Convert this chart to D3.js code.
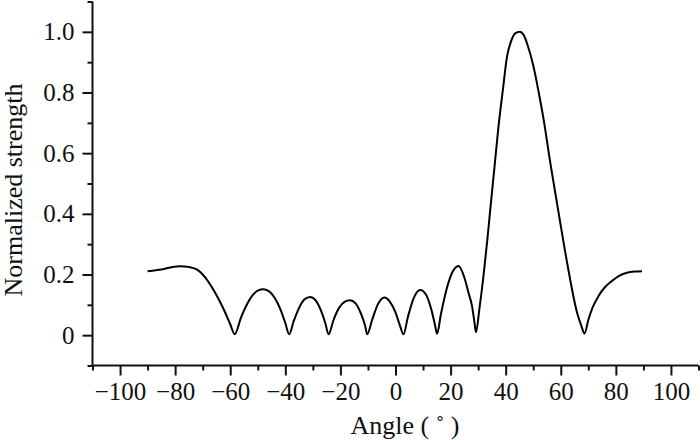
<!DOCTYPE html>
<html>
<head>
<meta charset="utf-8">
<script src="https://cdn.jsdelivr.net/npm/d3@7"></script>
<style>
  html, body { margin: 0; padding: 0; background: #fff; }
  svg { display: block; }
  text { font-family: "Liberation Serif", "Times New Roman", serif; fill: #111; }
</style>
</head>
<body>
<svg id="chart" width="700" height="440"></svg>
<script>
// ---- data ----
const angles = [
  -90, -87, -84, -81, -78, -75, -72, -70, -68, -66, -64, -62, -60, -58.4,
  -56, -54, -52, -50, -48, -46, -44, -42, -40, -38.6,
  -37, -35, -33, -31, -29, -27, -25.5, -24.3,
  -22.5, -20.5, -18.5, -16.5, -14.5, -12.5, -11, -10.3,
  -8.5, -6.5, -4, -2, 0, 1.5, 2.9,
  4.5, 6.5, 9, 11, 13, 14.3, 15.1,
  16.5, 18.5, 20.5, 22.9, 25, 26.5, 27.8, 28.7, 29.2,
  30.5, 32, 33.4, 34.4, 36, 37.4, 39, 40.5, 42, 43.5, 45.1, 46.5, 48, 50.1, 52, 53.8, 56.2, 59.2, 62.3, 65.9, 67.5, 68.6,
  70, 71.5, 73.7, 76, 78.6, 81, 84, 87, 89.5
];
const strength = [
  0.211, 0.214, 0.218, 0.225, 0.227, 0.225, 0.216, 0.200, 0.177, 0.148, 0.115, 0.078, 0.036, 0.003,
  0.060, 0.100, 0.130, 0.147, 0.151, 0.145, 0.125, 0.090, 0.040, 0.003,
  0.045, 0.090, 0.118, 0.126, 0.115, 0.080, 0.040, 0.003,
  0.050, 0.090, 0.110, 0.115, 0.105, 0.070, 0.030, 0.003,
  0.050, 0.100, 0.124, 0.110, 0.075, 0.035, 0.003,
  0.060, 0.120, 0.149, 0.135, 0.085, 0.035, 0.005,
  0.070, 0.150, 0.205, 0.228, 0.190, 0.140, 0.095, 0.040, 0.010,
  0.090, 0.200, 0.320, 0.414, 0.560, 0.689, 0.810, 0.919, 0.970, 0.995, 1.000, 0.990, 0.955, 0.886, 0.800, 0.710, 0.568, 0.404, 0.239, 0.075, 0.030, 0.005,
  0.050, 0.090, 0.129, 0.158, 0.179, 0.195, 0.206, 0.210, 0.211
];
const xMajorTicks = [-100, -80, -60, -40, -20, 0, 20, 40, 60, 80, 100];
const xMinorTicks = [-110, -90, -70, -50, -30, -10, 10, 30, 50, 70, 90, 110];
const yMajorTicks = [0, 0.2, 0.4, 0.6, 0.8, 1.0];
const yMinorTicks = [-0.1, 0.1, 0.3, 0.5, 0.7, 0.9, 1.1];
const yTickLabels = ["0", "0.2", "0.4", "0.6", "0.8", "1.0"];
const xTitle = "Angle\u00a0(\u00a0\u02da\u00a0)";
const yTitle = "Normalized strength";

// ---- layout ----
const svg = d3.select("#chart");
const x = d3.scaleLinear().domain([-110, 110]).range([92.5, 698.5]);
const y = d3.scaleLinear().domain([-0.1, 1.1]).range([365.5, 1.5]);

const axisColor = "#111";
const tickFont = 25;

// x axis
const gx = svg.append("g").attr("transform", `translate(0,${y(-0.1)})`);
gx.call(d3.axisBottom(x).tickValues(xMajorTicks).tickSize(10).tickPadding(7)
  .tickFormat(d => d < 0 ? "\u2212" + Math.abs(d) : String(d)));
gx.call(g => g.select(".domain").remove());
gx.append("g").call(d3.axisBottom(x).tickValues(xMinorTicks).tickSize(5).tickFormat(""))
  .call(g => g.select(".domain").remove());
gx.append("line").attr("x1", x(-110)).attr("x2", x(110)).attr("y1", 0).attr("y2", 0);

// y axis
const gy = svg.append("g").attr("transform", `translate(${x(-110)},0)`);
gy.call(d3.axisLeft(y).tickValues(yMajorTicks).tickSize(10).tickPadding(8)
  .tickFormat((d, i) => yTickLabels[i]));
gy.call(g => g.select(".domain").remove());
gy.append("g").call(d3.axisLeft(y).tickValues(yMinorTicks).tickSize(5).tickFormat(""))
  .call(g => g.select(".domain").remove());
gy.append("line").attr("x1", 0).attr("x2", 0).attr("y1", y(-0.1)).attr("y2", y(1.1));

svg.selectAll("g line").attr("stroke", axisColor).attr("stroke-width", 2);
svg.selectAll("g .tick text")
  .style("font-family", '"Liberation Serif", "Times New Roman", serif')
  .style("font-size", tickFont + "px")
  .attr("fill", "#111");

// titles
svg.append("text")
  .attr("x", 405).attr("y", 434)
  .attr("text-anchor", "middle")
  .style("font-size", "26px")
  .text(xTitle);

svg.append("text")
  .attr("transform", `translate(22,${190}) rotate(-90)`)
  .attr("text-anchor", "middle")
  .style("font-size", "26px")
  .text(yTitle);

// curve
const pts = angles.map((a, i) => [a, strength[i]]);
const line = d3.line().x(d => x(d[0])).y(d => y(d[1])).curve(d3.curveMonotoneX);
svg.append("path")
  .datum(pts)
  .attr("d", line)
  .attr("fill", "none")
  .attr("stroke", "#000")
  .attr("stroke-width", 2)
  .attr("stroke-linejoin", "round");
</script>
</body>
</html>
